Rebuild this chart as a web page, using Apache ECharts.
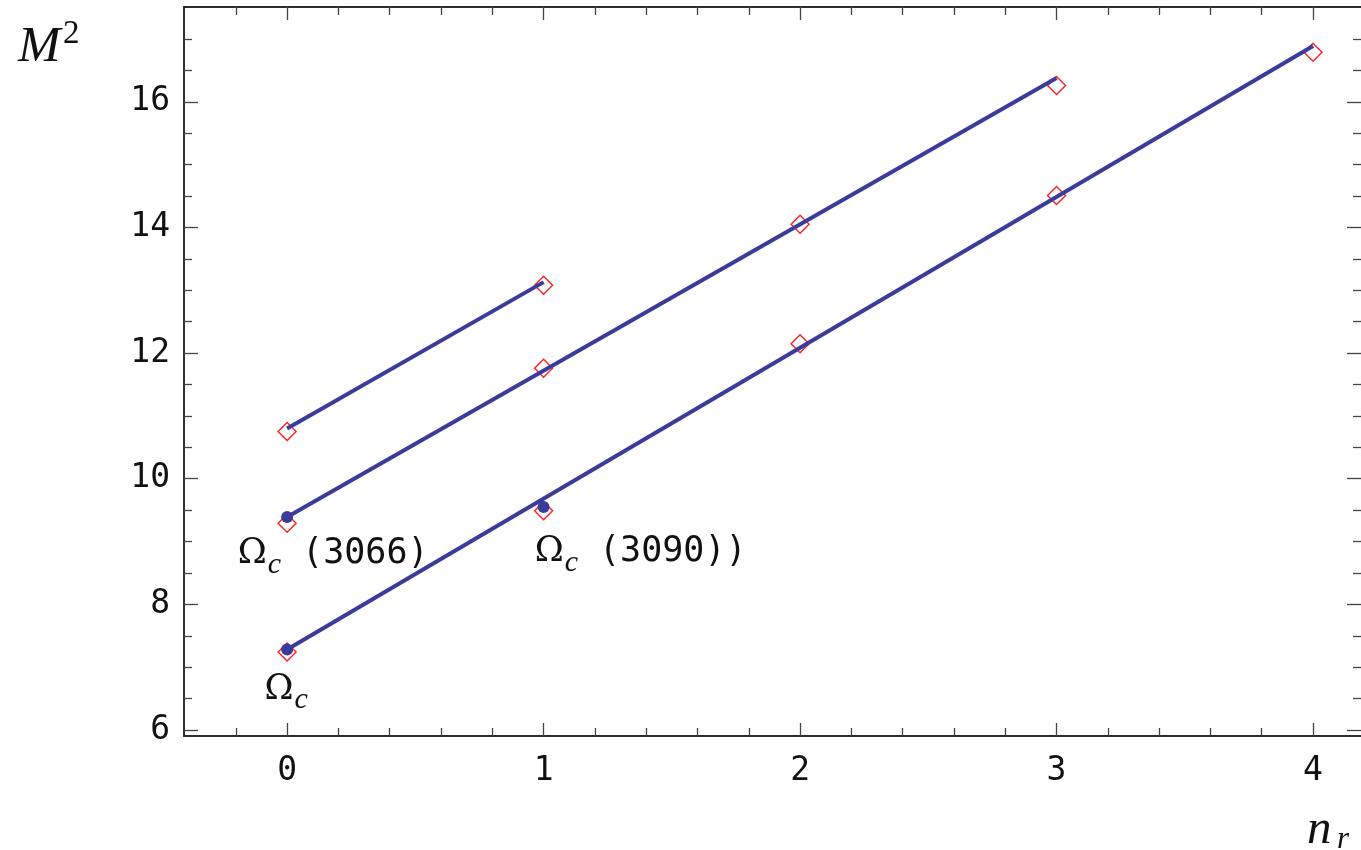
<!DOCTYPE html>
<html>
<head>
<meta charset="utf-8">
<script src="https://cdn.jsdelivr.net/npm/echarts@6/dist/echarts.min.js"></script>
<style>html,body{margin:0;padding:0;background:#fff}#main{width:1361px;height:850px}</style>
</head>
<body>
<div id="main"></div>
<script>
var monoFont = '"DejaVu Sans Mono",monospace';
var serifFont = '"Liberation Serif","DejaVu Serif",serif';

// radial quantum number
var nr = [0, 1, 2, 3, 4];
// calculated masses (diamonds), one list per trajectory
var trajA = [7.24, 9.49, 12.15, 14.51, 16.79];
var trajB = [9.29, 11.76, 14.05, 16.26];
var trajC = [10.75, 13.08];
// fitted lines (end points)
var fitAx = [0, 4], fitAy = [7.28, 16.89];
var fitBx = [0, 3], fitBy = [9.39, 16.38];
var fitCx = [0, 1], fitCy = [10.80, 13.13];
// experimental states (filled dots)
var expX = [0, 0, 1];
var expY = [7.28, 9.39, 9.55];
var expNames = ['', '(3066)', '(3090))'];
// ticks
var xMajor = [0, 1, 2, 3, 4];
var xMinor = [-0.2, 0.2, 0.4, 0.6, 0.8, 1.2, 1.4, 1.6, 1.8, 2.2, 2.4, 2.6, 2.8, 3.2, 3.4, 3.6, 3.8];
var yMajor = [6, 8, 10, 12, 14, 16];
var yMinor = [6.5, 7, 7.5, 8.5, 9, 9.5, 10.5, 11, 11.5, 12.5, 13, 13.5, 14.5, 15, 15.5, 16.5, 17];

var lineColor = '#3b3b9b';
var labelShift = [[-1, 40], [46, 37], [97, 45]];

function pairs(xs, ys) {
    return ys.map(function (y, i) { return [xs[i], y]; });
}

function axis(dim, pos, ticks, len, labels) {
    var isX = dim === 'x';
    return {
        type: 'value',
        position: pos,
        min: isX ? -0.402 : 5.904,
        max: isX ? 4.187 : 17.51,
        axisLine: {show: pos !== 'right', onZero: false, lineStyle: {color: '#222', width: 1.5}},
        splitLine: {show: false},
        axisTick: {show: true, inside: true, length: len, customValues: ticks,
            lineStyle: {color: '#444', width: 1.3}},
        axisLabel: {show: labels, customValues: isX ? xMajor : yMajor, margin: isX ? 19 : 14,
            color: '#111', fontFamily: monoFont, fontSize: 33}
    };
}

function diamonds(ys) {
    return {
        type: 'scatter', symbol: 'diamond', symbolSize: 18, z: 2, silent: true,
        itemStyle: {color: 'rgba(0,0,0,0)', borderColor: '#ff2020', borderWidth: 1.4, opacity: 1},
        data: pairs(nr, ys)
    };
}

function fit(xs, ys) {
    return {
        type: 'line', showSymbol: false, z: 3, silent: true,
        lineStyle: {color: lineColor, width: 4},
        data: pairs(xs, ys)
    };
}

var chart = echarts.init(document.getElementById('main'));
var option = {
    animation: false,
    grid: {left: 184, top: 7, right: 0, bottom: 114},
    xAxis: [
        axis('x', 'bottom', xMajor, 13, true),
        axis('x', 'bottom', xMinor, 8, false),
        axis('x', 'top', xMajor, 13, false),
        axis('x', 'top', xMinor, 8, false)
    ],
    yAxis: [
        axis('y', 'left', yMajor, 14, true),
        axis('y', 'left', yMinor, 8, false),
        axis('y', 'right', yMajor, 14, false),
        axis('y', 'right', yMinor, 8, false)
    ],
    graphic: [
        {type: 'text', left: 18, top: 22, style: {text: 'M', fontFamily: serifFont, fontStyle: 'italic', fontSize: 51, fill: '#111'}},
        {type: 'text', left: 63, top: 18, style: {text: '2', fontFamily: serifFont, fontSize: 33, fill: '#111'}},
        {type: 'text', left: 1307, top: 806, style: {text: 'n', fontFamily: serifFont, fontStyle: 'italic', fontSize: 49, fill: '#111'}},
        {type: 'text', left: 1337, top: 824, style: {text: 'r', fontFamily: serifFont, fontStyle: 'italic', fontSize: 31, fill: '#111'}}
    ],
    series: [
        diamonds(trajA), diamonds(trajB), diamonds(trajC),
        fit(fitAx, fitAy), fit(fitBx, fitBy), fit(fitCx, fitCy),
        {
            type: 'scatter', symbol: 'circle', symbolSize: 12, z: 4, silent: true,
            itemStyle: {color: lineColor, opacity: 1},
            label: {
                show: true, position: 'inside', color: '#111',
                textBorderWidth: 0, opacity: 1,
                fontFamily: monoFont, fontSize: 35,
                rich: {
                    o: {fontFamily: '"DejaVu Serif",serif', fontSize: 35, color: '#111'},
                    s: {fontFamily: serifFont, fontStyle: 'italic', fontSize: 30, color: '#111', padding: [22, 0, 0, 1]},
                    m: {fontFamily: monoFont, fontSize: 35, color: '#111'}
                }
            },
            data: expX.map(function (x, i) {
                var name = expNames[i];
                return {
                    value: [x, expY[i]],
                    label: {
                        offset: labelShift[i],
                        formatter: '{o|\u03A9}{s|c}' + (name ? ' {m|' + name + '}' : '')
                    }
                };
            })
        }
    ]
};
chart.setOption(option);
</script>
</body>
</html>
